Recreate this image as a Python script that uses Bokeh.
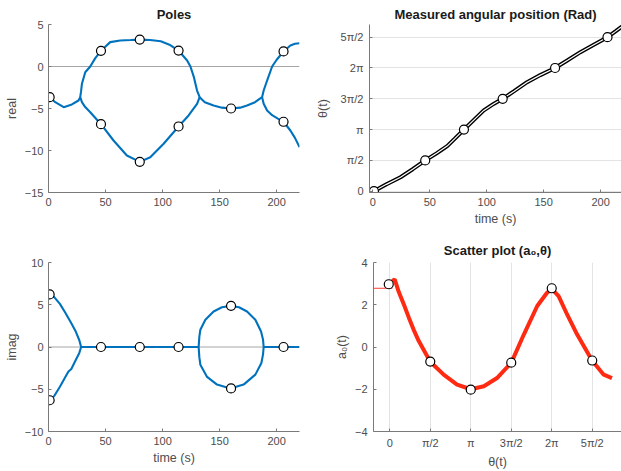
import numpy as np
from bokeh.plotting import figure
from bokeh.layouts import column, row
from bokeh.models import Span, FixedTicker, Range1d
from bokeh.embed import file_html
from bokeh.resources import INLINE

PI = np.pi

# ---------------- data ----------------
# Poles, real part (branches)
re_a_t = [0, 1, 5.9, 13.3, 20.5, 26.3, 27.8]
re_a = [-3.55, -3.65, -4.25, -4.84, -4.52, -4.05, -3.65]
re_up1_t = [27.8, 28.5, 29.3, 32.2, 36.6, 41, 46, 54.1, 62.9, 72, 80, 89, 98.4, 106, 114, 121.5, 124.4, 127.5, 130.2, 132.5]
re_up1 = [-3.65, -3.0, -2.06, -0.68, 0.0, 1.0, 1.87, 2.9, 3.1, 3.15, 3.2, 3.15, 3.0, 2.6, 1.9, 0.71, 0.0, -1.3, -2.86, -3.65]
re_lo1_t = [27.8, 29.3, 32, 36.6, 46, 57, 68.7, 80, 89.2, 100.9, 114, 122.8, 130.2, 132.5]
re_lo1 = [-3.65, -4.25, -4.8, -5.44, -6.87, -8.81, -10.6, -11.35, -10.8, -9.2, -7.14, -5.83, -4.44, -3.65]
re_mid_t = [132.5, 137, 144.7, 152, 160, 168, 174, 181, 187.2]
re_mid = [-3.65, -4.25, -4.64, -4.9, -5.0, -4.9, -4.64, -4.25, -3.65]
re_up2_t = [187.2, 188.6, 191.6, 196, 200, 206, 212, 216, 220]
re_up2 = [-3.65, -2.86, -1.67, 0.0, 0.8, 1.79, 2.5, 2.7, 2.76]
re_lo2_t = [187.2, 188.6, 191.6, 196, 201, 206, 212, 216, 220]
re_lo2 = [-3.65, -4.44, -5.24, -5.8, -6.2, -6.58, -7.62, -8.5, -9.6]
mk_re_t = [1, 46, 46, 80, 80, 114, 114, 160, 206, 206]
mk_re = [-3.65, 1.87, -6.87, 3.21, -11.35, 1.9, -7.14, -5.0, 1.79, -6.58]

# Poles, imaginary part (branches)
im_up1_t = [0, 1, 5, 10, 15, 20, 24, 27, 28.6]
im_up1 = [6.35, 6.22, 5.9, 5.1, 4.0, 2.8, 1.8, 0.8, 0.0]
im_lo1_t = [0, 1, 5, 10, 15, 17.5, 20, 24, 27, 28.6]
im_lo1 = [-6.4, -6.3, -5.8, -4.7, -3.5, -2.9, -2.6, -1.5, -0.7, 0.0]
im_z1_t = [28.6, 131.6]
im_z2_t = [188.6, 220]
im_lp_up_t = [131.6, 132.2, 133.1, 137.5, 144.7, 152, 159.4, 167, 174, 181.3, 186.3, 188.0, 188.6]
im_lp_up = [0, 1.2, 2.04, 3.22, 4.2, 4.7, 4.87, 4.7, 4.2, 3.22, 1.84, 0.9, 0]
im_lp_lo_t = [131.6, 132.2, 133.1, 139, 147.7, 159.4, 171, 181.3, 186.6, 188.0, 188.6]
im_lp_lo = [0, -1.2, -2.09, -3.54, -4.45, -4.9, -4.45, -3.27, -1.9, -0.9, 0]
mk_im_t = [1, 1, 46, 80, 114, 160, 160, 206]
mk_im = [6.22, -6.3, 0, 0, 0, 4.87, -4.9, 0]

# Measured angular position
th_t = [0, 12, 24.3, 35, 46, 56, 65.3, 72, 80, 89, 97.4, 106, 114, 124, 135.4, 147, 160, 171, 182.2, 194, 206, 213, 220]
th = [-0.03, 0.35, 0.714, 1.12, 1.571, 1.93, 2.30, 2.68, 3.142, 3.65, 4.12, 4.45, 4.712, 5.1, 5.56, 5.92, 6.283, 6.68, 7.09, 7.47, 7.854, 8.15, 8.46]
mk_th_t = [1, 46, 80, 114, 160, 206]
mk_th = [0, PI / 2, PI, 3 * PI / 2, 2 * PI, 5 * PI / 2]

# Scatter plot a0 vs theta
a0_th = [0.09, 0.19, 0.35, 0.55, 0.74, 0.95, 1.125, 1.571, 2.09, 2.61, 3.142, 3.65, 4.16, 4.712, 5.20, 5.72, 6.10, 6.283, 6.55, 6.88, 7.27, 7.854, 8.30, 8.62]
a0 = [3.13, 3.2, 2.6, 2.0, 1.39, 0.75, 0.28, -0.7, -1.31, -1.78, -2.0, -1.86, -1.47, -0.75, 0.59, 1.94, 2.57, 2.75, 2.41, 1.54, 0.59, -0.65, -1.31, -1.47]
a0_init_th = [-0.7, 0.1]
a0_init = [2.78, 2.78]
mk_a0_th = [-0.04, PI / 2, PI, 3 * PI / 2, 2 * PI, 5 * PI / 2]
mk_a0 = [2.97, -0.69, -2.02, -0.74, 2.78, -0.64]

pi_ticks = [0, PI / 2, PI, 3 * PI / 2, 2 * PI, 5 * PI / 2]
pi_labels = ["0", "π/2", "π", "3π/2", "2π", "5π/2"]

# ---------------- styling ----------------
FONT = "Liberation Sans"
BLUE = "#0072BD"
AX = "#7a7a7a"
TXT = "#4d4d4d"


def make_fig(w, h, xr, yr, left, right, top, bottom, title=None, standoff=6):
    p = figure(width=w, height=h, x_range=Range1d(*xr), y_range=Range1d(*yr),
               output_backend="svg", toolbar_location=None,
               min_border_left=left, min_border_right=right,
               min_border_top=top, min_border_bottom=bottom,
               title=title)
    p.outline_line_color = None
    p.background_fill_color = "white"
    p.border_fill_color = "white"
    p.xgrid.grid_line_color = None
    p.ygrid.grid_line_color = None
    for ax in p.axis:
        ax.axis_line_color = AX
        ax.axis_line_width = 1
        ax.major_tick_line_color = AX
        ax.major_tick_in = 3
        ax.major_tick_out = 0
        ax.minor_tick_line_color = None
        ax.major_label_text_font = FONT
        ax.major_label_text_font_size = "11px"
        ax.major_label_text_color = TXT
        ax.major_label_standoff = 5
        ax.axis_label_text_font = FONT
        ax.axis_label_text_font_size = "12.5px"
        ax.axis_label_text_font_style = "normal"
        ax.axis_label_text_color = TXT
        ax.axis_label_standoff = 3
    p.yaxis.major_label_standoff = 6
    p.yaxis.axis_label_standoff = 8
    if title is not None:
        p.title.text_font = FONT
        p.title.text_font_size = "13px"
        p.title.text_font_style = "bold"
        p.title.text_color = "#1a1a1a"
        p.title.align = "center"
        p.title.standoff = standoff
    return p


def markers(p, x, y):
    p.scatter(x, y, size=9, fill_color="white", line_color="black", line_width=1.2)


# ---- Poles (real) ----
p1 = make_fig(310, 235, (0, 220), (-15, 5), 48, 11, 24, 43, title="Poles")
p1.xaxis.ticker = FixedTicker(ticks=[0, 50, 100, 150, 200])
p1.yaxis.ticker = FixedTicker(ticks=[-15, -10, -5, 0, 5])
p1.yaxis.axis_label = "real"
p1.yaxis.major_label_standoff = 5
p1.yaxis.axis_label_standoff = 3
p1.add_layout(Span(location=0, dimension="width", line_color="#a6a6a6", line_width=1, level="underlay"))
for xs, ys in [(re_a_t, re_a), (re_up1_t, re_up1), (re_lo1_t, re_lo1),
               (re_mid_t, re_mid), (re_up2_t, re_up2), (re_lo2_t, re_lo2)]:
    p1.line(xs, ys, line_color=BLUE, line_width=2.1)
markers(p1, mk_re_t, mk_re)

# ---- Measured angular position ----
p2 = make_fig(311, 235, (-2.9, 218.3), (-0.066, 8.5), 59, 0, 24, 43,
              title="Measured angular position (Rad)")
p2.xaxis.ticker = FixedTicker(ticks=[0, 50, 100, 150, 200])
p2.yaxis.ticker = FixedTicker(ticks=pi_ticks)
p2.yaxis.major_label_overrides = {t: l for t, l in zip(pi_ticks, pi_labels)}
p2.ygrid.ticker = FixedTicker(ticks=pi_ticks)
p2.ygrid.grid_line_color = "#e3e3e3"
p2.xaxis.axis_label = "time (s)"
p2.yaxis.axis_label = "θ(t)"
p2.line(th_t, th, line_color="black", line_width=4)
p2.line(th_t, th, line_color="white", line_width=1.2)
markers(p2, mk_th_t, mk_th)

# ---- Poles (imag) ----
p3 = make_fig(310, 236, (0, 220), (-10, 10), 48, 11, 27, 39)
p3.xaxis.ticker = FixedTicker(ticks=[0, 50, 100, 150, 200])
p3.yaxis.ticker = FixedTicker(ticks=[-10, -5, 0, 5, 10])
p3.yaxis.axis_label = "imag"
p3.yaxis.major_label_standoff = 5
p3.yaxis.axis_label_standoff = 3
p3.xaxis.axis_label = "time (s)"
p3.add_layout(Span(location=0, dimension="width", line_color="#a6a6a6", line_width=1, level="underlay"))
for xs, ys in [(im_up1_t, im_up1), (im_lo1_t, im_lo1), (im_lp_up_t, im_lp_up), (im_lp_lo_t, im_lp_lo)]:
    p3.line(xs, ys, line_color=BLUE, line_width=2.1)
for xs in [im_z1_t, im_z2_t]:
    p3.line(xs, [0, 0], line_color=BLUE, line_width=2.1)
markers(p3, mk_im_t, mk_im)

# ---- Scatter plot ----
p4 = make_fig(311, 236, (-0.632, 8.99), (-4, 4), 63, 0, 27, 39,
              title="Scatter plot (a₀,θ)", standoff=9)
p4.xaxis.ticker = FixedTicker(ticks=pi_ticks)
p4.xaxis.major_label_overrides = {t: l for t, l in zip(pi_ticks, pi_labels)}
p4.yaxis.ticker = FixedTicker(ticks=[-4, -2, 0, 2, 4])
p4.xgrid.ticker = FixedTicker(ticks=pi_ticks)
p4.xgrid.grid_line_color = "#e3e3e3"
p4.xaxis.axis_label = "θ(t)"
p4.yaxis.axis_label = "a₀(t)"
p4.yaxis.axis_label_standoff = 3
p4.line(a0_init_th, a0_init, line_color="#ff3b2f", line_width=1)
p4.line(a0_th, a0, line_color="#ff2a12", line_width=4)
markers(p4, mk_a0_th, mk_a0)

layout = column(row(p1, p2), row(p3, p4))
open("out.html", "w").write(file_html(layout, INLINE))
